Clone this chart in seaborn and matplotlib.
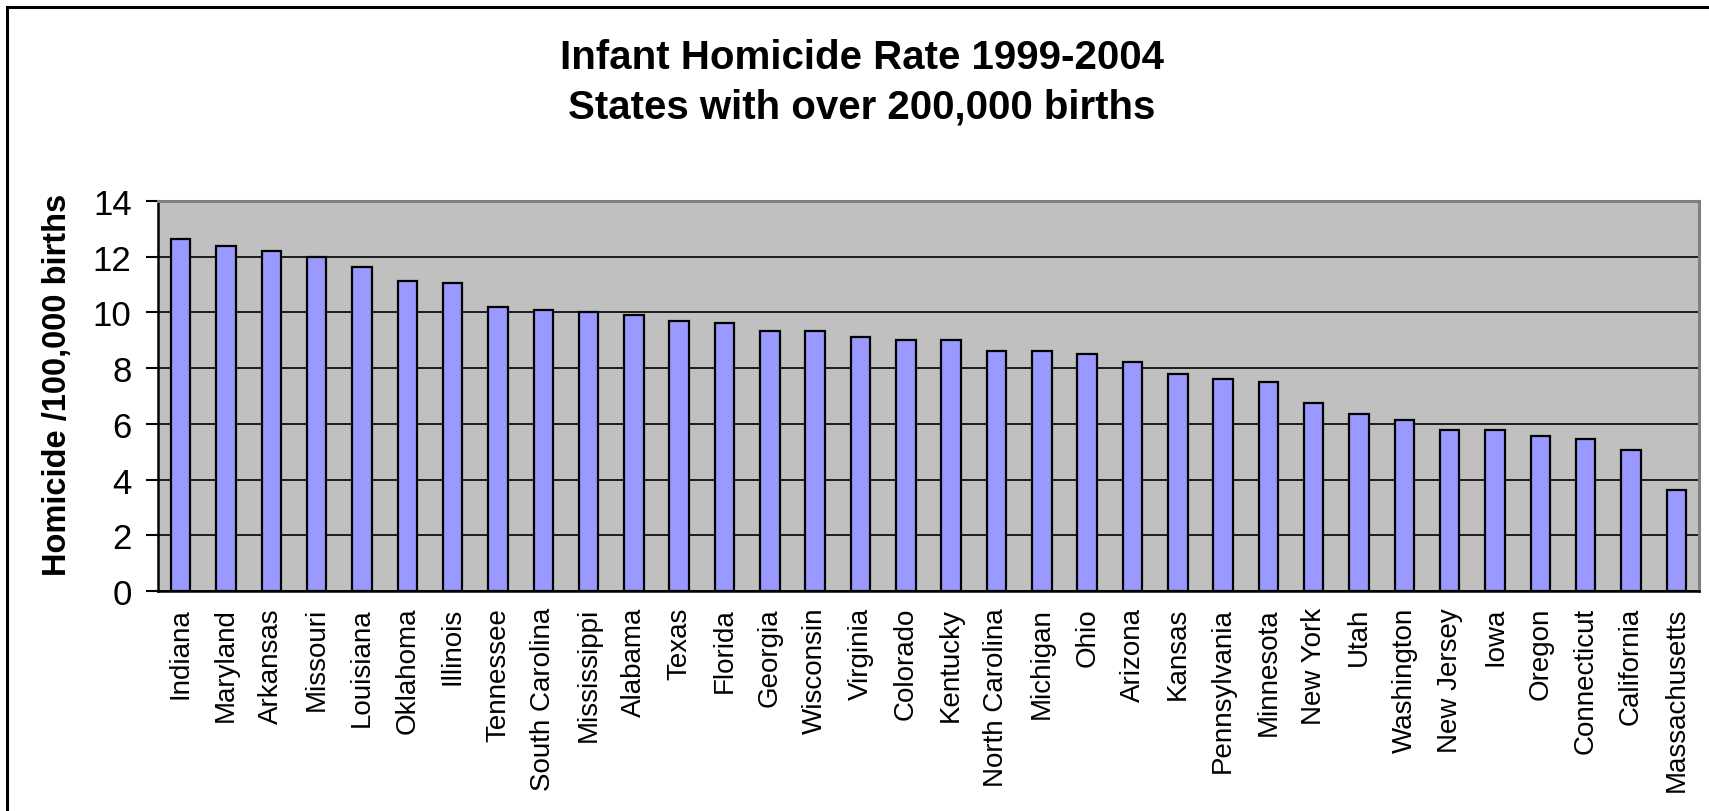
import matplotlib
matplotlib.use("Agg")
import matplotlib.pyplot as plt
import seaborn as sns
import pandas as pd
from matplotlib.patches import Rectangle

states = ["Indiana", "Maryland", "Arkansas", "Missouri", "Louisiana", "Oklahoma",
          "Illinois", "Tennessee", "South Carolina", "Mississippi", "Alabama", "Texas",
          "Florida", "Georgia", "Wisconsin", "Virginia", "Colorado", "Kentucky",
          "North Carolina", "Michigan", "Ohio", "Arizona", "Kansas", "Pennsylvania",
          "Minnesota", "New York", "Utah", "Washington", "New Jersey", "Iowa",
          "Oregon", "Connecticut", "California", "Massachusetts"]
rates = [12.65, 12.37, 12.2, 12.0, 11.62, 11.12,
         11.05, 10.19, 10.08, 10.0, 9.9, 9.7,
         9.62, 9.33, 9.33, 9.11, 9.02, 9.02,
         8.63, 8.63, 8.52, 8.23, 7.78, 7.6,
         7.52, 6.75, 6.35, 6.15, 5.77, 5.77,
         5.56, 5.47, 5.07, 3.63]
yticks = [0, 2, 4, 6, 8, 10, 12, 14]
title_lines = ["Infant Homicide Rate 1999-2004", "States with over 200,000 births"]
ylabel = "Homicide /100,000 births"

sns.set_theme(style="white")
plt.rcParams['font.family'] = ['Liberation Sans', 'DejaVu Sans']
plt.rcParams['text.color'] = 'black'
plt.rcParams['axes.labelcolor'] = 'black'
plt.rcParams['xtick.color'] = 'black'
plt.rcParams['ytick.color'] = 'black'

W, H = 1709, 812
fig = plt.figure(figsize=(W / 100, H / 100), dpi=100)
fig.patch.set_facecolor("white")
ax = fig.add_axes([158 / W, 1 - 592 / H, (1699 - 158) / W, (592 - 202) / H])

df = pd.DataFrame({"State": states, "Rate": rates})
sns.barplot(data=df, x="State", y="Rate", color="#9999FF", saturation=1,
            width=0.43, edgecolor="black", linewidth=1.6, ax=ax, zorder=3)

ax.set_facecolor("#C0C0C0")
ax.set_axisbelow(True)
ax.set_ylim(0, 14)
ax.set_xlim(-0.5, len(states) - 0.5)
ax.set_yticks(yticks)
ax.set_yticklabels([str(v) for v in yticks], fontsize=25)
ax.yaxis.grid(True, color="black", linewidth=1.2)
ax.xaxis.grid(False)

ax.set_xticks(range(len(states)))
ax.set_xticklabels(states, rotation=90, fontsize=20)
ax.set_xticks([i - 0.5 for i in range(len(states) + 1)], minor=True)
ax.tick_params(axis="x", which="major", length=0, pad=11.5, labelcolor="black")
ax.tick_params(axis="x", which="minor", length=6, width=1.5, direction="out", color="black")
ax.tick_params(axis="y", which="major", left=True, length=9, width=1.5,
               direction="out", pad=10, colors="black")
ax.set_xlabel("")
ax.set_ylabel("")

for s in ["left", "bottom"]:
    ax.spines[s].set_color("black")
    ax.spines[s].set_linewidth(1.8)
for s in ["top", "right"]:
    ax.spines[s].set_color("#808080")
    ax.spines[s].set_linewidth(2.2)

fig.text(862 / W, 1 - 58 / H, title_lines[0], ha="center", va="center",
         fontsize=29, fontweight="bold", color="black")
fig.text(862 / W, 1 - 108 / H, title_lines[1], ha="center", va="center",
         fontsize=29, fontweight="bold", color="black")
fig.text(58 / W, 1 - 385 / H, ylabel, rotation=90, ha="center", va="center",
         fontsize=23.5, fontweight="bold", color="black")

fig.patches.append(Rectangle((7.5 / W, -0.2), 1.2, 1.2 - 7.5 / H,
                             transform=fig.transFigure, fill=False,
                             edgecolor="black", linewidth=2.2, zorder=10))

fig.savefig("out.png", dpi=100)
